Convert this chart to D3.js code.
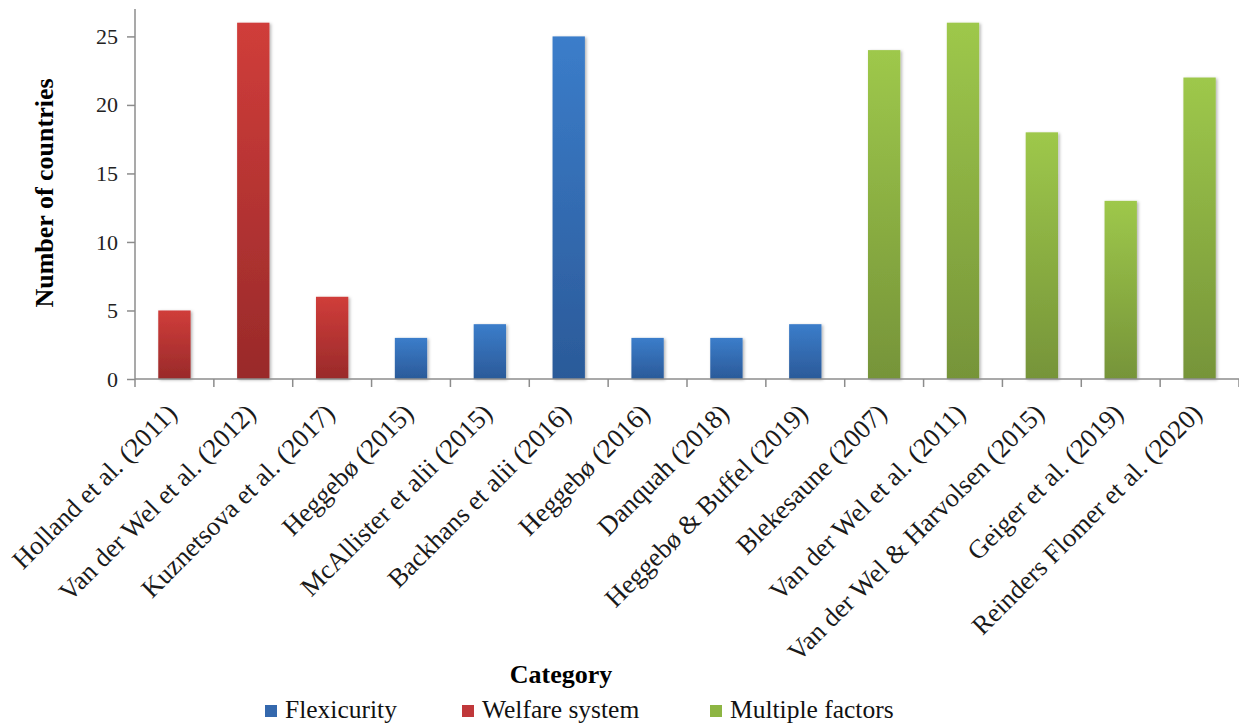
<!DOCTYPE html>
<html>
<head>
<meta charset="utf-8">
<script src="https://cdn.jsdelivr.net/npm/d3@7"></script>
<style>
  html, body { margin: 0; padding: 0; background: #fff; }
  svg { display: block; }
  text { font-family: "Liberation Serif", "Times New Roman", serif; }
</style>
</head>
<body>
<svg id="chart" width="1239" height="727"></svg>
<script>
const categories = [
  "Holland et al. (2011)", "Van der Wel et al. (2012)", "Kuznetsova et al. (2017)",
  "Heggebø (2015)", "McAllister et alii (2015)", "Backhans et alii (2016)",
  "Heggebø (2016)", "Danquah (2018)", "Heggebø & Buffel (2019)",
  "Blekesaune (2007)", "Van der Wel et al. (2011)", "Van der Wel & Harvolsen (2015)",
  "Geiger et al. (2019)", "Reinders Flomer et al. (2020)"
];
const values = [5, 26, 6, 3, 4, 25, 3, 3, 4, 24, 26, 18, 13, 22];
const groups = ["Welfare system", "Welfare system", "Welfare system",
  "Flexicurity", "Flexicurity", "Flexicurity", "Flexicurity", "Flexicurity", "Flexicurity",
  "Multiple factors", "Multiple factors", "Multiple factors", "Multiple factors", "Multiple factors"];
const legendOrder = ["Flexicurity", "Welfare system", "Multiple factors"];
const yTicks = [0, 5, 10, 15, 20, 25];

const palette = {
  "Flexicurity": { top: "#3b7dca", bottom: "#2b5a99", key: "#3468ad" },
  "Welfare system": { top: "#d03d3a", bottom: "#992a2a", key: "#c0383a" },
  "Multiple factors": { top: "#9ec84b", bottom: "#769439", key: "#8db543" }
};

const svg = d3.select("#chart");
const x0 = 135, x1 = 1239, yBase = 379, yTop = 9;

const x = d3.scaleBand().domain(categories).range([x0, x1]).paddingInner(0.59).paddingOuter(0.295);
const xEdges = d3.scaleLinear().domain([0, categories.length]).range([x0, x1]);
const y = d3.scaleLinear().domain([0, 27]).range([yBase, yTop]);

const defs = svg.append("defs");
Object.entries(palette).forEach(([k, c], i) => {
  const g = defs.append("linearGradient").attr("id", "grad" + i)
    .attr("x1", 0).attr("y1", 0).attr("x2", 0).attr("y2", 1);
  g.append("stop").attr("offset", "0%").attr("stop-color", c.top);
  g.append("stop").attr("offset", "100%").attr("stop-color", c.bottom);
  c.id = "grad" + i;
});
const f = defs.append("filter").attr("id", "shadow").attr("x", "-20%").attr("y", "-5%").attr("width", "150%").attr("height", "115%");
f.append("feDropShadow").attr("dx", 1.5).attr("dy", 1).attr("stdDeviation", 1.5)
  .attr("flood-color", "#000").attr("flood-opacity", 0.3);

// bars
svg.append("g").selectAll("rect").data(categories).join("rect")
  .attr("x", d => x(d))
  .attr("width", x.bandwidth())
  .attr("y", (d, i) => y(values[i]))
  .attr("height", (d, i) => yBase - y(values[i]))
  .attr("fill", (d, i) => "url(#" + palette[groups[i]].id + ")")
  .attr("filter", "url(#shadow)");

// y axis
const yAxis = d3.axisLeft(y).tickValues(yTicks).tickSize(8).tickPadding(9);
const gy = svg.append("g").attr("transform", `translate(${x0},0)`).call(yAxis);
gy.select(".domain").attr("stroke", "#8c8c8c").attr("stroke-width", 1.5).attr("d", `M0,${yTop}V${yBase}`);
gy.selectAll(".tick line").attr("stroke", "#8c8c8c").attr("stroke-width", 1.5);
gy.selectAll(".tick text").attr("font-family", "Liberation Serif, serif").attr("font-size", 22).attr("fill", "#222");

// x axis
const xAxisG = svg.append("g");
xAxisG.append("line").attr("x1", x0).attr("x2", x1).attr("y1", yBase).attr("y2", yBase)
  .attr("stroke", "#8c8c8c").attr("stroke-width", 1.5);
xAxisG.selectAll("line.tk").data(d3.range(categories.length + 1)).join("line").attr("class", "tk")
  .attr("x1", d => xEdges(d)).attr("x2", d => xEdges(d))
  .attr("y1", yBase).attr("y2", yBase + 8)
  .attr("stroke", "#8c8c8c").attr("stroke-width", 1.5);
xAxisG.selectAll("text").data(categories).join("text")
  .attr("transform", d => `translate(${x(d) + x.bandwidth() / 2 + 4},${yBase + 36}) rotate(-45)`)
  .attr("text-anchor", "end")
  .attr("font-size", 26.5)
  .attr("fill", "#1a1a1a")
  .text(d => d);

// y title
svg.append("text")
  .attr("transform", `translate(53,193) rotate(-90)`)
  .attr("text-anchor", "middle")
  .attr("font-size", 26).attr("font-weight", "bold")
  .text("Number of countries");

// x title
svg.append("text")
  .attr("x", 561).attr("y", 683)
  .attr("text-anchor", "middle")
  .attr("font-size", 26).attr("font-weight", "bold")
  .text("Category");

// legend
const legendX = [265, 462, 710];
const lg = svg.append("g").selectAll("g").data(legendOrder).join("g")
  .attr("transform", (d, i) => `translate(${legendX[i]},0)`);
lg.append("rect").attr("x", 0).attr("y", 705).attr("width", 12).attr("height", 12)
  .attr("fill", d => palette[d].key);
lg.append("text").attr("x", 20).attr("y", 718).attr("font-size", 25.5).attr("fill", "#111").text(d => d);
</script>
</body>
</html>
